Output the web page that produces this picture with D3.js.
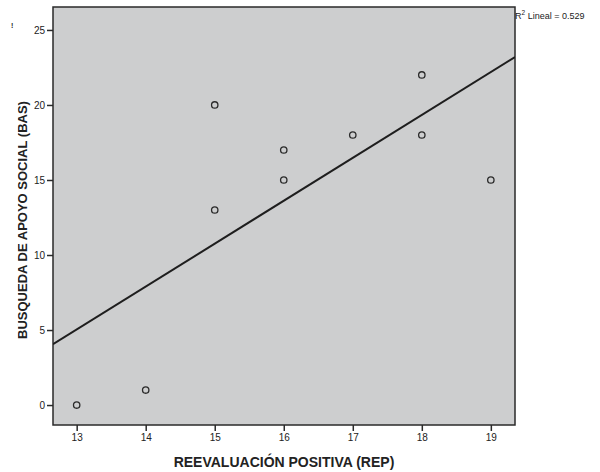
<!DOCTYPE html>
<html lang="es">
<head>
<meta charset="utf-8">
<title>REP vs BAS</title>
<script src="https://cdn.jsdelivr.net/npm/d3@7"></script>
<style>
  body { margin: 0; background: #fff; }
  text { font-family: "Liberation Sans", Arial, sans-serif; fill: #222; }
</style>
</head>
<body>
<div id="chart"></div>
<script>
// datos
const rep = [13, 14, 15, 15, 16, 16, 17, 18, 18, 19];
const bas = [0, 1, 20, 13, 17, 15, 18, 22, 18, 15];
const xTicks = [13, 14, 15, 16, 17, 18, 19];
const yTicks = [0, 5, 10, 15, 20, 25];
const r2Label = "0.529";

const w = 600, h = 472;
const plot = { left: 53, top: 7, right: 515, bottom: 425 };

const x = d3.scaleLinear().domain([12.657, 19.35]).range([plot.left, plot.right]);
const y = d3.scaleLinear().domain([-1.33, 26.53]).range([plot.bottom, plot.top]);

const svg = d3.select("#chart").append("svg")
  .attr("width", w)
  .attr("height", h);

// fondo del área
svg.append("rect")
  .attr("x", plot.left)
  .attr("y", plot.top)
  .attr("width", plot.right - plot.left)
  .attr("height", plot.bottom - plot.top)
  .attr("fill", "#cdcecf")
  .attr("stroke", "#2a2a2a")
  .attr("stroke-width", 1.5);

// recta de mínimos cuadrados
const mx = d3.mean(rep), my = d3.mean(bas);
const sxy = d3.sum(rep, (d, i) => (d - mx) * (bas[i] - my));
const sxx = d3.sum(rep, d => (d - mx) * (d - mx));
const slope = sxy / sxx, icpt = my - slope * mx;
const [x0, x1] = x.domain();

svg.append("defs").append("clipPath").attr("id", "plotclip")
  .append("rect")
  .attr("x", plot.left).attr("y", plot.top)
  .attr("width", plot.right - plot.left).attr("height", plot.bottom - plot.top);

svg.append("line")
  .attr("clip-path", "url(#plotclip)")
  .attr("x1", x(x0)).attr("y1", y(icpt + slope * x0))
  .attr("x2", x(x1)).attr("y2", y(icpt + slope * x1))
  .attr("stroke", "#1e1e1e")
  .attr("stroke-width", 2);

// puntos
svg.append("g")
  .selectAll("circle")
  .data(rep)
  .enter()
  .append("circle")
  .attr("cx", d => x(d))
  .attr("cy", (d, i) => y(bas[i]))
  .attr("r", 3.2)
  .attr("fill", "none")
  .attr("stroke", "#2a2a2a")
  .attr("stroke-width", 1.3);

// ejes
const xAxis = d3.axisBottom(x).tickValues(xTicks).tickFormat(d3.format("d")).tickSize(6).tickPadding(3);
const yAxis = d3.axisLeft(y).tickValues(yTicks).tickFormat(d3.format("d")).tickSize(6).tickPadding(2);

const gx = svg.append("g")
  .attr("transform", "translate(0," + plot.bottom + ")")
  .call(xAxis);
const gy = svg.append("g")
  .attr("transform", "translate(" + plot.left + ",0)")
  .call(yAxis);

[gx, gy].forEach(g => {
  g.select(".domain").remove();
  g.selectAll(".tick line").attr("stroke", "#2a2a2a").attr("stroke-width", 1.5);
  g.selectAll(".tick text")
    .attr("font-size", 10)
    .attr("font-family", "Liberation Sans, Arial, sans-serif")
    .attr("fill", "#222");
});

// títulos de los ejes
svg.append("text")
  .attr("x", (plot.left + plot.right) / 2)
  .attr("y", 467)
  .attr("text-anchor", "middle")
  .attr("font-size", 14)
  .attr("font-weight", "bold")
  .text("REEVALUACIÓN POSITIVA (REP)");

svg.append("clipPath").attr("id", "ylabclip")
  .append("rect").attr("x", 17.5).attr("y", 0).attr("width", 40).attr("height", h);

svg.append("g")
  .attr("clip-path", "url(#ylabclip)")
  .append("text")
  .attr("transform", "translate(27," + 220 + ") rotate(-90)")
  .attr("text-anchor", "middle")
  .attr("font-size", 13)
  .attr("font-weight", "bold")
  .text("BÚSQUEDA DE APOYO SOCIAL (BAS)");

// etiqueta R²
const r2 = svg.append("text")
  .attr("x", 515)
  .attr("y", 19)
  .attr("font-size", 9);
r2.append("tspan").text("R");
r2.append("tspan").attr("dy", -4).attr("font-size", 6.5).text("2");
r2.append("tspan").attr("dy", 4).text(" Lineal = " + r2Label);

// marca suelta arriba a la izquierda
svg.append("text")
  .attr("x", 11)
  .attr("y", 28)
  .attr("font-size", 7)
  .attr("font-weight", "bold")
  .text("!");
</script>
</body>
</html>
